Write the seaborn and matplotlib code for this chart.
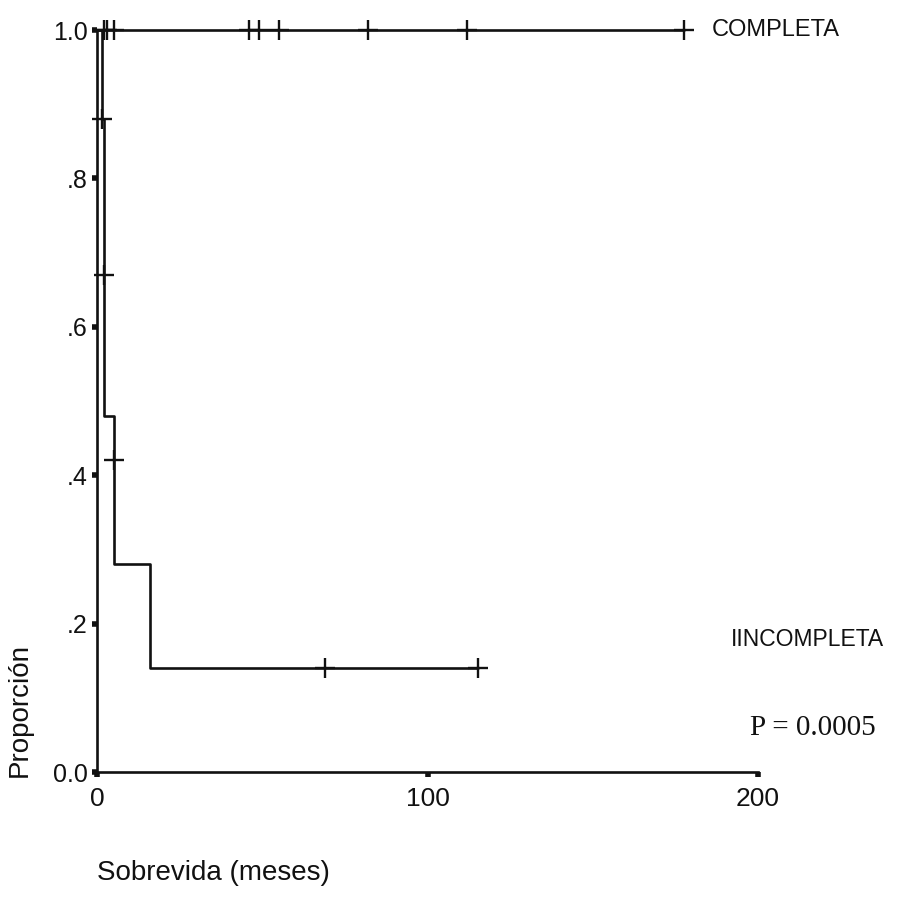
import numpy as np
import pandas as pd
import matplotlib
matplotlib.use("Agg")
import matplotlib.pyplot as plt
import seaborn as sns

# Kaplan-Meier step data
completa_time = [0, 177.5]
completa_surv = [1.0, 1.0]
completa_cens_time = [2, 3, 5, 46, 49, 55, 82, 112, 177.5]
completa_cens_surv = [1.0, 1.0, 1.0, 1.0, 1.0, 1.0, 1.0, 1.0, 1.0]

incompleta_time = [0, 1.5, 2.0, 2.2, 5.0, 16.0, 115.3]
incompleta_surv = [1.0, 0.88, 0.67, 0.48, 0.28, 0.14, 0.14]
incompleta_cens_time = [1.5, 2.0, 5.0, 69, 115.3]
incompleta_cens_surv = [0.88, 0.67, 0.42, 0.14, 0.14]

x_ticks = [0, 100, 200]
x_tick_labels = ["0", "100", "200"]
y_ticks = [0.0, 0.2, 0.4, 0.6, 0.8, 1.0]
y_tick_labels = ["0.0", ".2", ".4", ".6", ".8", "1.0"]

sns.set_theme(style="white")
plt.rcParams["font.family"] = ["Liberation Sans", "DejaVu Sans"]

INK = "#111111"
W, H = 899, 907
fig = plt.figure(figsize=(W / 100, H / 100), dpi=100)
ax = fig.add_axes([97 / W, 1 - 772 / H, (758 - 97) / W, (772 - 30) / H])

lines = pd.DataFrame({
    "t": completa_time + incompleta_time,
    "s": completa_surv + incompleta_surv,
    "g": ["COMPLETA"] * len(completa_time) + ["INCOMPLETA"] * len(incompleta_time),
})
cens = pd.DataFrame({
    "t": completa_cens_time + incompleta_cens_time,
    "s": completa_cens_surv + incompleta_cens_surv,
    "g": ["COMPLETA"] * len(completa_cens_time) + ["INCOMPLETA"] * len(incompleta_cens_time),
})

for g, sub in lines.groupby("g"):
    sns.lineplot(data=sub, x="t", y="s", ax=ax, color=INK, linewidth=1.9,
                 drawstyle="steps-post", sort=False, estimator=None, clip_on=False)
sns.scatterplot(data=cens, x="t", y="s", ax=ax, marker="+", s=200, color=INK,
                linewidth=1.7, clip_on=False, zorder=5, legend=False)

ax.set_xlim(0, 200)
ax.set_ylim(0, 1.0)
ax.set_xticks(x_ticks)
ax.set_xticklabels(x_tick_labels, fontsize=19)
ax.set_yticks(y_ticks)
ax.set_yticklabels(y_tick_labels, fontsize=18)
ax.tick_params(axis="both", direction="out", length=3.5, width=4, color=INK,
               labelcolor=INK, bottom=True, left=True)
ax.tick_params(axis="x", pad=7)
ax.tick_params(axis="y", pad=3)
for side in ["top", "right"]:
    ax.spines[side].set_visible(False)
for side in ["left", "bottom"]:
    ax.spines[side].set_color(INK)
    ax.spines[side].set_linewidth(1.9)
ax.set_xlabel("")
ax.set_ylabel("")
ax.set_facecolor("white")

fig.text(97 / W, 1 - 873 / H, "Sobrevida (meses)", fontsize=20, ha="left", va="center",
         color=INK)
fig.text(20 / W, 1 - 777 / H, "Proporción", fontsize=20, rotation=90, ha="center",
         va="bottom", color=INK)
fig.text(712 / W, 1 - 30 / H, "COMPLETA", fontsize=17, ha="left", va="center",
         color=INK)
fig.text(731 / W, 1 - 640 / H, "IINCOMPLETA", fontsize=16.5, ha="left", va="center",
         color=INK)
fig.text(750 / W, 1 - 728 / H, "P = 0.0005", fontsize=21, ha="left", va="center",
         color=INK, family=["Liberation Serif", "DejaVu Serif"])

fig.savefig("out.png", dpi=100, facecolor="white")
